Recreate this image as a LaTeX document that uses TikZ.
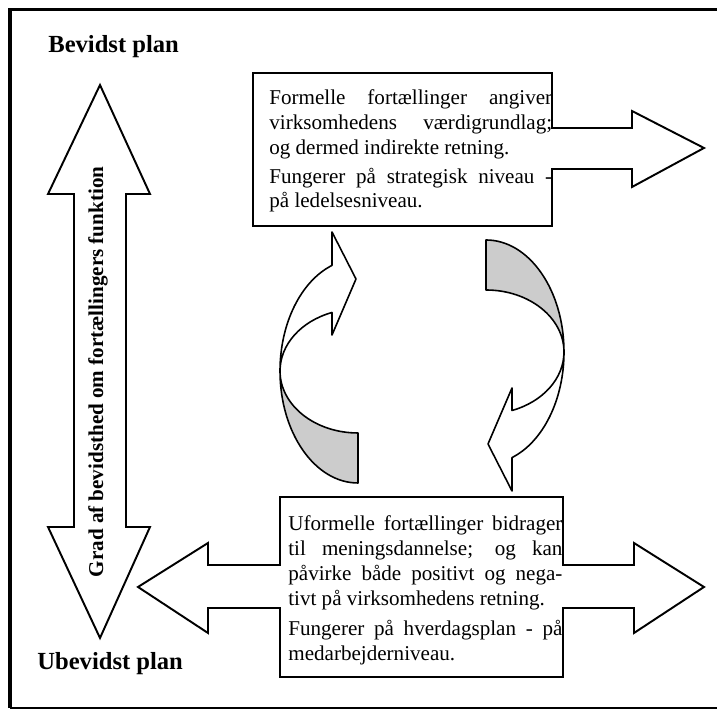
\documentclass[tikz,border=0pt]{standalone}
\usepackage{fontspec}
\setmainfont{Liberation Serif}
\tikzstyle{outline}=[draw, line width=1.1pt, line join=miter, fill=white]
\tikzstyle{ribbon}=[draw, line width=0.9pt, line join=round, fill=white]
\tikzstyle{back}=[draw, line width=0.9pt, line join=round, fill=black!20]
\tikzstyle{boxtext}=[inner sep=0pt, anchor=north west, align=left, font=\fontsize{12}{14.2}\selectfont]
\tikzstyle{planlabel}=[inner sep=0pt, anchor=base west, font=\fontsize{14}{16}\selectfont\bfseries]
\newlength\topw \setlength\topw{161pt}
\newlength\botw \setlength\botw{156pt}
\newcommand{\turnarrow}[2]{%
  \begin{scope}[shift={#1}, rotate=#2]
    \path[ribbon] (-78,0) arc[start angle=180, end angle=109.5, x radius=78, y radius=112]
      -- (-26,139) -- (-2,92) -- (-26,36) -- (-26,58.5)
      arc[start angle=109.5, end angle=180, x radius=78, y radius=62] -- cycle;
    \path[back] (-78,0) arc[start angle=180, end angle=270, x radius=78, y radius=112]
      -- (0,-62) arc[start angle=270, end angle=180, x radius=78, y radius=62] -- cycle;
  \end{scope}}

\begin{document}
\begin{tikzpicture}[x=0.02cm, y=0.02cm]
	\useasboundingbox (0,0) rectangle (717,712);
	\clip (0,0) rectangle (717,712);
	\draw[line width=1.2pt] (10,4) -- (717,4);
	\draw[line width=2.2pt, line join=miter] (10,4) -- (10,702.5) -- (717,702.5);
	\path[outline] (100,627) -- (150,518) -- (126,518) -- (126,185) -- (150,185) -- (100,74)
	  -- (48,185) -- (74,185) -- (74,518) -- (48,518) -- cycle;
	\path[outline] (253,639) -- (552,639) -- (552,584) -- (632,584) -- (632,601) -- (704,564)
	  -- (632,525) -- (632,543) -- (552,543) -- (552,486) -- (253,486) -- cycle;
	\path[outline] (280,215) -- (563,215) -- (563,147) -- (634,147) -- (634,169) -- (704,125)
	  -- (634,79) -- (634,104) -- (563,104) -- (563,35) -- (280,35) -- (280,104) -- (208,104)
	  -- (208,79) -- (138,125) -- (208,169) -- (208,147) -- (280,147) -- cycle;
	\turnarrow{(358,341)}{0}
	\turnarrow{(486,360)}{180}
	\node[planlabel] (bevidst) at (48,659) {Bevidst plan};
	\node[planlabel] (ubevidst) at (37,42) {Ubevidst plan};
	\node[rotate=90, inner sep=0pt, font=\fontsize{12}{14}\selectfont\bfseries] (grad) at (98,340)
	  {Grad af bevidsthed om fortællingers funktion};
	\node[boxtext] (formel) at (269,622.5) {\makebox[\topw][s]{Formelle fortællinger angiver}\\
	  \makebox[\topw][s]{virksomhedens værdigrundlag;}\\
	  og dermed indirekte retning.\\[2pt]
	  \makebox[\topw][s]{Fungerer på strategisk niveau -}\\
	  på ledelsesniveau.};
	\node[boxtext] (uformel) at (288,196.5) {\makebox[\botw][s]{Uformelle fortællinger bidrager}\\
	  \makebox[\botw][s]{til meningsdannelse; og kan}\\
	  \makebox[\botw][s]{påvirke både positivt og nega-}\\
	  tivt på virksomhedens retning.\\[3pt]
	  \makebox[\botw][s]{Fungerer på hverdagsplan - på}\\
	  medarbejderniveau.};
\end{tikzpicture}
\end{document}
